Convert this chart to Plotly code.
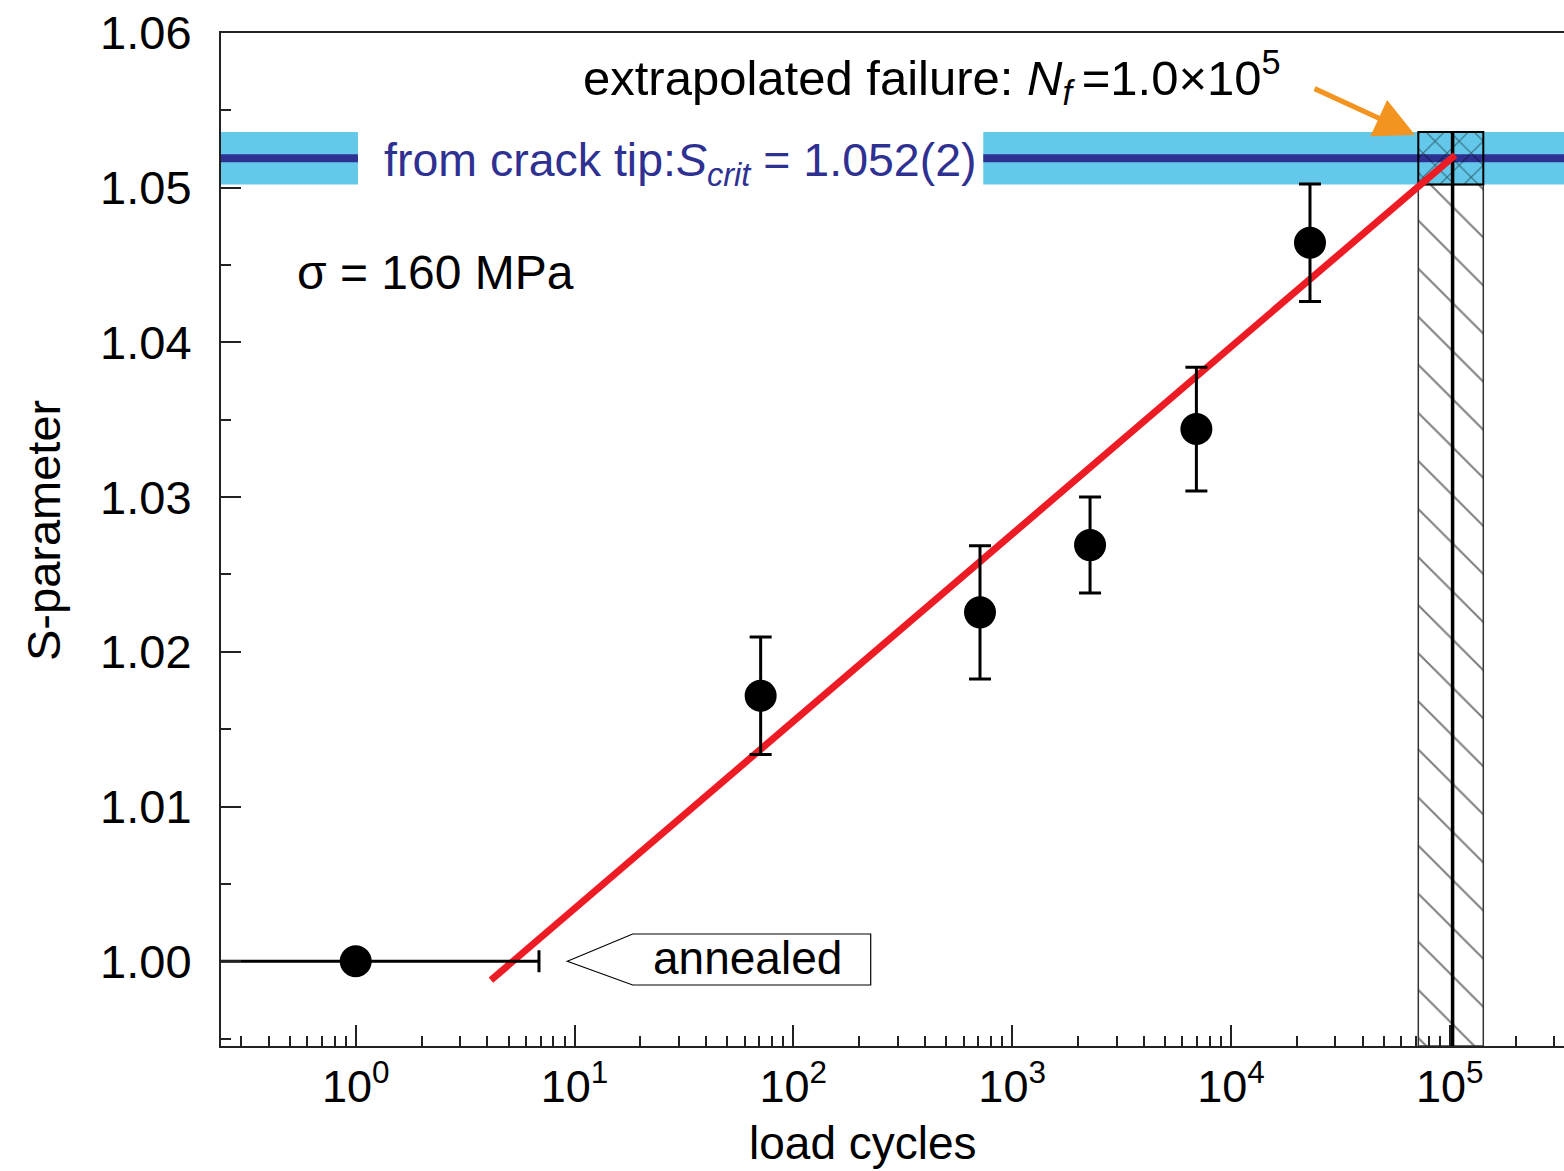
import numpy as np
import plotly.graph_objects as go

# ---------------- data ----------------
cycles = [1.0, 70.9, 713, 2270, 6950, 22970]
s_param = [1.0000, 1.01716, 1.02255, 1.0269, 1.0344, 1.04644]
s_err = [0.0, 0.0038, 0.0043, 0.0031, 0.0040, 0.0038]
cycles_err_plus = [5.88, 0, 0, 0, 0, 0]
cycles_err_minus = [0.95, 0, 0, 0, 0, 0]

fit_cycles = [4.15, 1.058e5]
fit_s = [0.99878, 1.05211]

s_crit = 1.0519
s_crit_err = 0.0017

n_fail = 1.03e5
n_fail_low = 71800
n_fail_high = 142300

x_tick_vals = [1, 10, 100, 1000, 10000, 100000]
x_tick_text = ["10<sup>0</sup>", "10<sup>1</sup>", "10<sup>2</sup>",
               "10<sup>3</sup>", "10<sup>4</sup>", "10<sup>5</sup>"]
y_tick_vals = [1.00, 1.01, 1.02, 1.03, 1.04, 1.05, 1.06]
y_tick_text = ["1.00", "1.01", "1.02", "1.03", "1.04", "1.05", "1.06"]

# ---------------- layout geometry ----------------
W, H = 1564, 1171
ML, MR, MT, MB = 221, 0, 33, 125
x_range_log = [-0.6156, 5.522]
y_range = [0.99452, 1.0600]

def px(p):  # pixel -> paper x
    return (p - ML) / (W - ML - MR)

def py(p):  # pixel -> paper y
    return (H - MB - p) / (H - MT - MB)

FONT = "Liberation Sans, Arial, Helvetica, sans-serif"
BAND = "#63C8EA"
DARK = "#2E3192"

fig = go.Figure()

x_left = 10 ** x_range_log[0]
x_right = 10 ** x_range_log[1]

# cyan band (broken where the label sits)
gap_l, gap_r = 1.024, 738
shapes = []
for (a, b) in [(x_left, gap_l), (gap_r, x_right)]:
    shapes.append(dict(type="rect", xref="x", yref="y", x0=a, x1=b,
                       y0=s_crit - s_crit_err, y1=s_crit + s_crit_err,
                       fillcolor=BAND, line=dict(width=0), layer="below"))
    shapes.append(dict(type="line", xref="x", yref="y", x0=a, x1=b,
                       y0=s_crit, y1=s_crit, line=dict(color=DARK, width=8),
                       layer="below"))

# annealed callout box
path = "M {} {} L {} {} L {} {} L {} {} L {} {} Z".format(
    px(567.3), py(961.3), px(632.7), py(934), px(870.7), py(934),
    px(870.7), py(985), px(632.7), py(985))
shapes.append(dict(type="path", xref="paper", yref="paper", path=path,
                   line=dict(color="black", width=1.2), fillcolor="white"))

# hatched failure region (below band)
yb = y_range[0]
y_band_lo = s_crit - s_crit_err
y_band_hi = s_crit + s_crit_err
fig.add_trace(go.Scatter(
    x=[n_fail_low, n_fail_high, n_fail_high, n_fail_low, n_fail_low],
    y=[yb, yb, y_band_lo, y_band_lo, yb],
    mode="lines", fill="toself", line=dict(color="#333333", width=1.5),
    fillcolor="rgba(0,0,0,0)",
    fillpattern=dict(shape="\\", fgcolor="black", bgcolor="rgba(0,0,0,0)",
                     size=34, solidity=0.06, fillmode="overlay"),
    hoverinfo="skip", showlegend=False))
# cross-hatched region (within band)
fig.add_trace(go.Scatter(
    x=[n_fail_low, n_fail_high, n_fail_high, n_fail_low, n_fail_low],
    y=[y_band_lo, y_band_lo, y_band_hi, y_band_hi, y_band_lo],
    mode="lines", fill="toself", line=dict(color="black", width=2),
    fillcolor="rgba(0,0,0,0)",
    fillpattern=dict(shape="x", fgcolor="black", bgcolor="rgba(0,0,0,0)",
                     size=17, solidity=0.12, fillmode="overlay"),
    hoverinfo="skip", showlegend=False))
# extrapolated failure line
fig.add_trace(go.Scatter(x=[n_fail, n_fail], y=[yb, y_band_hi], mode="lines",
                         line=dict(color="black", width=3.5),
                         hoverinfo="skip", showlegend=False))

# fit line
fig.add_trace(go.Scatter(x=fit_cycles, y=fit_s, mode="lines",
                         line=dict(color="#ED1C24", width=7),
                         showlegend=False))

# data points
fig.add_trace(go.Scatter(
    x=cycles, y=s_param, mode="markers",
    marker=dict(color="black", size=32, line=dict(width=0)),
    error_y=dict(type="data", array=s_err, color="black", thickness=3, width=11),
    error_x=dict(type="data", array=cycles_err_plus, arrayminus=cycles_err_minus,
                 color="black", thickness=3, width=11),
    showlegend=False))

annotations = [
    dict(text="extrapolated failure: <i>N</i><sub><i>f</i></sub>\u2009=1.0×10<sup>5</sup>",
         x=px(932), y=py(78), xref="paper", yref="paper", showarrow=False,
         xanchor="center", yanchor="middle",
         font=dict(family=FONT, size=49, color="black")),
    dict(text="from crack tip:<i>S</i><sub><i>crit</i></sub> = 1.052(2)",
         x=px(680), y=py(163), xref="paper", yref="paper", showarrow=False,
         xanchor="center", yanchor="middle",
         font=dict(family=FONT, size=46.5, color=DARK)),
    dict(text="σ = 160 MPa", x=px(435), y=py(272), xref="paper", yref="paper",
         showarrow=False, xanchor="center", yanchor="middle",
         font=dict(family=FONT, size=48, color="black")),
    dict(text="annealed", x=px(747.5), y=py(958), xref="paper", yref="paper",
         showarrow=False, xanchor="center", yanchor="middle",
         font=dict(family=FONT, size=46, color="black")),
    dict(text="load cycles", x=px(863), y=py(1143), xref="paper", yref="paper",
         showarrow=False, xanchor="center", yanchor="middle",
         font=dict(family=FONT, size=46, color="black")),
    dict(text="S-parameter", x=px(43), y=py(531), xref="paper", yref="paper",
         showarrow=False, xanchor="center", yanchor="middle", textangle=-90,
         font=dict(family=FONT, size=47, color="black")),
    # orange arrow
    dict(text="", x=np.log10(69400), y=1.05341, xref="x", yref="y",
         showarrow=True, ax=-102, ay=-47, arrowcolor="#F39420",
         arrowwidth=5, arrowhead=2, arrowsize=1.6, standoff=0),
]

minor_x = [m * 10 ** k for k in range(-1, 6) for m in range(2, 10)]

fig.update_layout(
    width=W, height=H,
    margin=dict(l=ML, r=MR, t=MT, b=MB, pad=0),
    paper_bgcolor="white", plot_bgcolor="white",
    shapes=shapes, annotations=annotations,
    xaxis=dict(type="log", range=x_range_log, showgrid=False, zeroline=False,
               showline=True, linecolor="#222222", linewidth=2, mirror=True,
               ticks="inside", ticklen=21, tickwidth=1.5, tickcolor="#222222",
               tickmode="array", tickvals=x_tick_vals, ticktext=x_tick_text,
               tickfont=dict(family=FONT, size=45, color="black"),
               ticklabelstandoff=0,
               minor=dict(tickmode="array", tickvals=minor_x, ticks="inside",
                          ticklen=10, tickwidth=1.5, tickcolor="#222222",
                          showgrid=False)),
    yaxis=dict(range=y_range, showgrid=False, zeroline=False,
               showline=True, linecolor="#222222", linewidth=2,
               ticks="inside", ticklen=20, tickwidth=1.5, tickcolor="#222222",
               tickmode="array", tickvals=y_tick_vals, ticktext=y_tick_text,
               tickfont=dict(family=FONT, size=47, color="black"),
               ticklabelstandoff=18,
               minor=dict(tickmode="linear", tick0=0.995, dtick=0.01,
                          ticks="inside", ticklen=10, tickwidth=1.5,
                          tickcolor="#222222", showgrid=False)),
)

fig.write_html("out.html")
